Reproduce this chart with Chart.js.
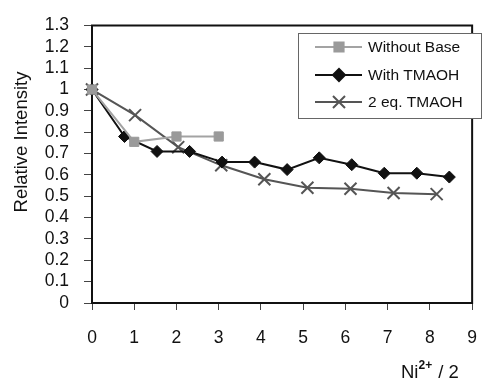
<!DOCTYPE html>
<html>
<head>
<meta charset="utf-8">
<script src="https://cdn.jsdelivr.net/npm/chart.js@4/dist/chart.umd.min.js"></script>
<style>
  html, body { margin: 0; padding: 0; background: #fff; }
  #wrap { width: 495px; height: 381px; }
</style>
</head>
<body>
<div id="wrap"><canvas id="chart" width="495" height="381"></canvas></div>
<script>
/* ================================
   DATA
================================ */
const withoutBaseX = [0, 1, 2, 3];
const withoutBaseY = [1, 0.755, 0.78, 0.78];

const tmaohX = [0, 0.77, 1.54, 2.31, 3.08, 3.85, 4.62, 5.38, 6.15, 6.92, 7.69, 8.46];
const tmaohY = [1, 0.78, 0.71, 0.71, 0.66, 0.66, 0.625, 0.68, 0.648, 0.608, 0.608, 0.59];

const twoEqX = [0, 1.02, 2.04, 3.06, 4.08, 5.1, 6.12, 7.14, 8.16];
const twoEqY = [1, 0.88, 0.73, 0.645, 0.58, 0.54, 0.535, 0.515, 0.51];

const seriesNames = ['Without Base', 'With TMAOH', '2 eq. TMAOH'];

const FONT = "'Liberation Sans', Arial, sans-serif";

const toPoints = (xs, ys) => xs.map((x, i) => ({ x, y: ys[i] }));

/* ================================
   PLUGINS: frame, legend, titles
================================ */
const frame = {
    id: 'frame',
    beforeDatasetsDraw(chart) {
        const { ctx, chartArea: a } = chart;
        ctx.save();
        ctx.strokeStyle = '#111';
        ctx.lineWidth = 2;
        ctx.strokeRect(a.left, a.top, a.right - a.left, a.bottom - a.top);
        ctx.restore();
    }
};

const boxLegend = {
    id: 'boxLegend',
    afterDatasetsDraw(chart) {
        const { ctx } = chart;
        ctx.save();
        ctx.fillStyle = '#fff';
        ctx.fillRect(298, 33, 183, 85);
        ctx.strokeStyle = '#666';
        ctx.lineWidth = 1;
        ctx.strokeRect(298.5, 33.5, 183, 85);

        const rows = [47, 75, 102];
        chart.data.datasets.forEach((ds, i) => {
            const y = rows[i];
            ctx.strokeStyle = ds.borderColor;
            ctx.lineWidth = ds.borderWidth;
            ctx.beginPath();
            ctx.moveTo(315, y);
            ctx.lineTo(362, y);
            ctx.stroke();

            ctx.fillStyle = ds.pointBackgroundColor;
            ctx.strokeStyle = ds.pointBorderColor;
            Chart.helpers.drawPoint(ctx, {
                pointStyle: ds.pointStyle,
                radius: ds.pointRadius,
                rotation: 0,
                borderWidth: ds.pointBorderWidth
            }, 339, y);

            ctx.fillStyle = '#111';
            ctx.font = '15.5px ' + FONT;
            ctx.textBaseline = 'middle';
            ctx.textAlign = 'left';
            ctx.fillText(seriesNames[i], 368, y + 1);
        });
        ctx.restore();
    }
};

const axisTitles = {
    id: 'axisTitles',
    afterDraw(chart) {
        const { ctx } = chart;
        ctx.save();
        ctx.fillStyle = '#111';

        // y title
        ctx.translate(22, 142);
        ctx.rotate(-Math.PI / 2);
        ctx.font = '18.5px ' + FONT;
        ctx.textAlign = 'center';
        ctx.textBaseline = 'middle';
        ctx.fillText('Relative Intensity', 0, 0);
        ctx.setTransform(1, 0, 0, 1, 0, 0);

        // x title: Ni with superscript 2+
        ctx.textAlign = 'left';
        ctx.textBaseline = 'alphabetic';
        let x = 401;
        ctx.font = '18.5px ' + FONT;
        ctx.fillText('Ni', x, 378);
        x += ctx.measureText('Ni').width;
        ctx.font = 'bold 12px ' + FONT;
        ctx.fillText('2+', x, 369);
        x += ctx.measureText('2+').width + 1;
        ctx.font = '18.5px ' + FONT;
        ctx.fillText(' / 2', x, 378);
        ctx.restore();
    }
};

/* ================================
   CHART
================================ */
new Chart(document.getElementById('chart'), {
    type: 'line',
    data: {
        datasets: [
            {
                label: seriesNames[0],
                data: toPoints(withoutBaseX, withoutBaseY),
                borderColor: '#a3a3a3',
                borderWidth: 2,
                pointStyle: 'rect',
                pointRadius: 6.5,
                pointBackgroundColor: '#9a9a9a',
                pointBorderColor: '#9a9a9a',
                pointBorderWidth: 1,
                tension: 0,
                clip: false
            },
            {
                label: seriesNames[1],
                data: toPoints(tmaohX, tmaohY),
                borderColor: '#111',
                borderWidth: 2,
                pointStyle: 'rectRot',
                pointRadius: 6,
                pointBackgroundColor: '#111',
                pointBorderColor: '#111',
                pointBorderWidth: 1,
                tension: 0,
                clip: false
            },
            {
                label: seriesNames[2],
                data: toPoints(twoEqX, twoEqY),
                borderColor: '#555',
                borderWidth: 2,
                pointStyle: 'crossRot',
                pointRadius: 8.5,
                pointBackgroundColor: '#555',
                pointBorderColor: '#555',
                pointBorderWidth: 2,
                tension: 0,
                clip: false
            }
        ]
    },
    options: {
        responsive: false,
        animation: false,
        layout: { padding: { left: 0, top: 20, right: 8, bottom: 0 } },
        plugins: {
            legend: { display: false },
            tooltip: { enabled: false }
        },
        scales: {
            x: {
                type: 'linear',
                min: 0,
                max: 9,
                afterFit: s => { s.height = 78; },
                grid: { drawOnChartArea: false, tickLength: 7, color: '#444' },
                border: { display: false },
                ticks: {
                    stepSize: 1,
                    autoSkip: false,
                    padding: 18,
                    color: '#111',
                    font: { family: FONT, size: 17.5 }
                }
            },
            y: {
                min: 0,
                max: 1.3,
                afterFit: s => { s.width = 92; },
                grid: { drawOnChartArea: false, tickLength: 8, color: '#444' },
                border: { display: false },
                ticks: {
                    stepSize: 0.1,
                    autoSkip: false,
                    padding: 15,
                    color: '#111',
                    font: { family: FONT, size: 17.5 },
                    callback: v => String(Math.round(v * 10) / 10)
                }
            }
        }
    },
    plugins: [frame, boxLegend, axisTitles]
});
</script>
</body>
</html>
